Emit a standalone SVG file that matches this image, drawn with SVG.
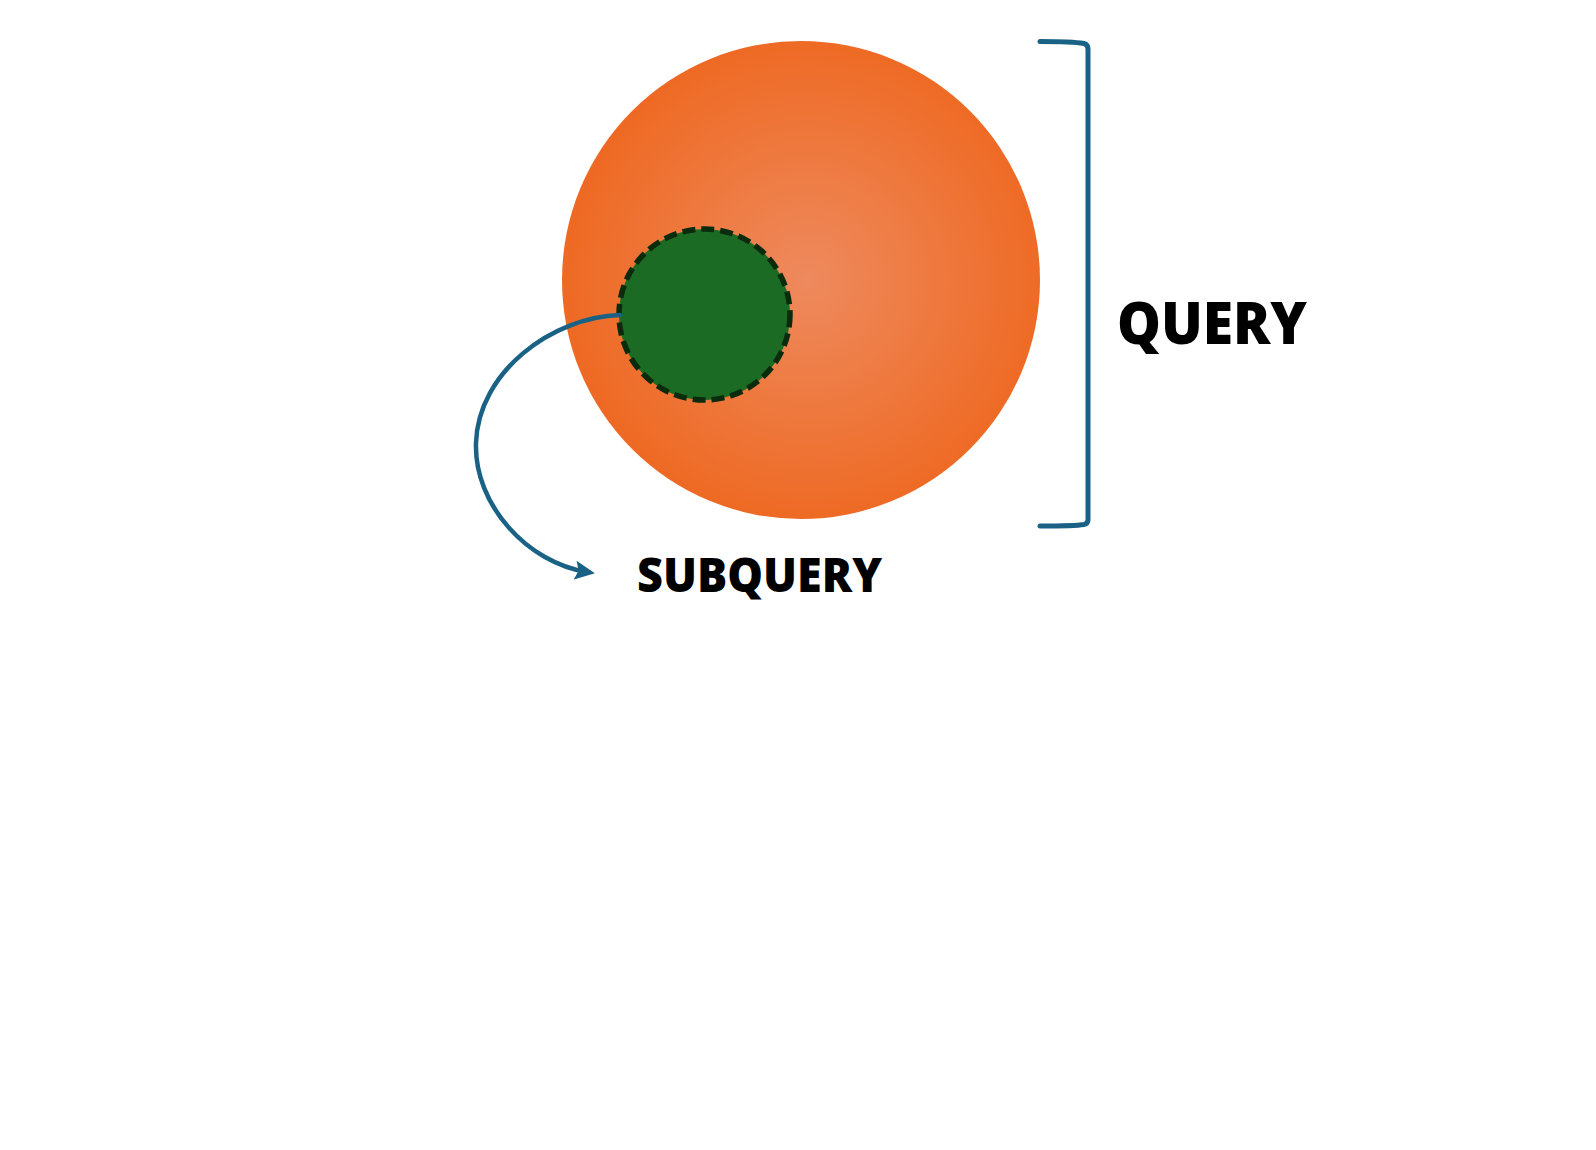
<svg xmlns="http://www.w3.org/2000/svg" width="1596" height="1150" viewBox="0 0 1596 1150">
<style>
.lbl{font-family:"Open Sans","Noto Sans","DejaVu Sans",sans-serif;font-weight:800;fill:#000}
.conn{fill:none;stroke:#1A6285;stroke-width:4.5;stroke-linecap:round;stroke-linejoin:round}
</style>
<defs>
<radialGradient id="og" cx="808" cy="280" r="240" gradientUnits="userSpaceOnUse">
<stop offset="0" stop-color="#EE8A5E"/>
<stop offset="1" stop-color="#EE6A24"/>
</radialGradient>
<marker id="ah" markerWidth="22" markerHeight="22" refX="12" refY="11" orient="auto" markerUnits="userSpaceOnUse" viewBox="0 0 22 22">
<path d="M0,1.5 L20,11 L0,20.5 L3.5,11 Z" fill="#1A6285"/>
</marker>
</defs>
<rect width="1596" height="1150" fill="#fff"/>
<g id="query-circle">
<circle cx="801" cy="280" r="239" fill="url(#og)"/>
</g>
<g id="subquery-circle">
<circle cx="704.5" cy="314.5" r="85.5" fill="#1B6B25" stroke="#0B2B0D" stroke-width="5.5" stroke-dasharray="13,6"/>
</g>
<g id="connectors">
<path class="conn" d="M620,315 C552,317 478,372 476,443 C474,505 528,563 587,572" marker-end="url(#ah)"/>
<path class="conn" style="stroke-width:5" d="M1040,41.5 C1060,41.5 1078,42.5 1084,43.5 Q1088,44.5 1088,49 L1088,520 Q1088,523.5 1084,524.5 C1078,525.5 1060,526 1040,526"/>
</g>
<g id="query-label">
<text class="lbl" x="1117" y="344" font-size="59" textLength="190" lengthAdjust="spacingAndGlyphs">QUERY</text>
</g>
<g id="subquery-label">
<text class="lbl" x="637" y="592" font-size="47" textLength="245" lengthAdjust="spacingAndGlyphs">SUBQUERY</text>
</g>
</svg>
